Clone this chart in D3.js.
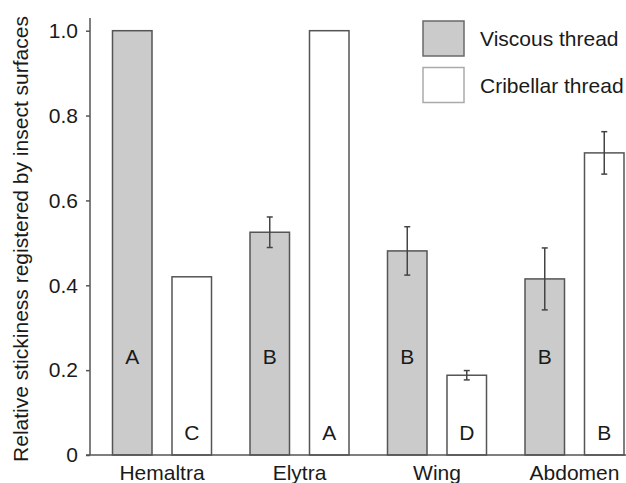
<!DOCTYPE html>
<html>
<head>
<meta charset="utf-8">
<script src="https://cdn.jsdelivr.net/npm/d3@7"></script>
<style>
  body { margin: 0; background: #fff; }
  text { font-family: "Liberation Sans", Arial, sans-serif; fill: #1a1a1a; }
</style>
</head>
<body>
<svg id="chart" width="626" height="483"></svg>
<script>
// data
const surfaces = ['Hemaltra', 'Elytra', 'Wing', 'Abdomen'];
const threads = ['Viscous thread', 'Cribellar thread'];
const viscous = [1.0, 0.525, 0.481, 0.415];
const viscousErr = [0, 0.036, 0.057, 0.073];
const viscousLetters = ['A', 'B', 'B', 'B'];
const cribellar = [0.42, 1.0, 0.188, 0.712];
const cribellarErr = [0, 0, 0.011, 0.05];
const cribellarLetters = ['C', 'A', 'D', 'B'];
const yTicks = [0, 0.2, 0.4, 0.6, 0.8, 1.0];

const rows = [];
surfaces.forEach((s, i) => {
  rows.push({ surface: s, thread: threads[0], value: viscous[i], err: viscousErr[i], letter: viscousLetters[i] });
  rows.push({ surface: s, thread: threads[1], value: cribellar[i], err: cribellarErr[i], letter: cribellarLetters[i] });
});

const svg = d3.select('#chart');
const axisLeft = 90, axisBottom = 455;

const y = d3.scaleLinear()
  .domain([0, 1])
  .range([axisBottom, 30.7]);

const x = d3.scaleBand()
  .domain(surfaces)
  .range([112.5, 624])
  .paddingInner(0.28)
  .paddingOuter(0);

const xInner = d3.scaleBand()
  .domain(threads)
  .range([0, x.bandwidth()])
  .paddingInner(0.336)
  .paddingOuter(0);

const fill = d3.scaleOrdinal()
  .domain(threads)
  .range(['#cbcbcb', '#ffffff']);

// bars
const bars = svg.append('g');
bars.selectAll('rect')
  .data(rows)
  .enter()
  .append('rect')
  .attr('x', d => x(d.surface) + xInner(d.thread))
  .attr('y', d => y(d.value))
  .attr('width', xInner.bandwidth())
  .attr('height', d => y(0) - y(d.value))
  .attr('fill', d => fill(d.thread))
  .attr('stroke', '#555')
  .attr('stroke-width', 1.5);

// error bars
const errRows = rows.filter(d => d.err > 0);
const cx = d => x(d.surface) + xInner(d.thread) + xInner.bandwidth() / 2;
const errs = svg.append('g')
  .attr('stroke', '#444')
  .attr('stroke-width', 1.5);
errs.selectAll('line.stem')
  .data(errRows)
  .enter()
  .append('line')
  .attr('class', 'stem')
  .attr('x1', cx).attr('x2', cx)
  .attr('y1', d => y(d.value + d.err))
  .attr('y2', d => y(d.value - d.err));
['top', 'bottom'].forEach(side => {
  errs.selectAll('line.cap-' + side)
    .data(errRows)
    .enter()
    .append('line')
    .attr('class', 'cap-' + side)
    .attr('x1', d => cx(d) - 3)
    .attr('x2', d => cx(d) + 3)
    .attr('y1', d => y(side === 'top' ? d.value + d.err : d.value - d.err))
    .attr('y2', d => y(side === 'top' ? d.value + d.err : d.value - d.err));
});

// significance letters
svg.append('g')
  .selectAll('text')
  .data(rows)
  .enter()
  .append('text')
  .attr('x', cx)
  .attr('y', d => d.thread === threads[0] ? 364 : 440)
  .attr('text-anchor', 'middle')
  .attr('font-size', 21)
  .text(d => d.letter);

// y axis
const yAxis = svg.append('g')
  .attr('transform', `translate(${axisLeft},0)`)
  .call(d3.axisLeft(y)
    .tickValues(yTicks)
    .tickSize(4)
    .tickPadding(8)
    .tickFormat(d => d === 0 ? '0' : d3.format('.1f')(d)));
yAxis.select('.domain')
  .attr('d', `M0,18V${axisBottom}`)
  .attr('stroke', '#555')
  .attr('stroke-width', 1.5);
yAxis.selectAll('.tick line').attr('stroke', '#555').attr('stroke-width', 1.5);
yAxis.selectAll('.tick text')
  .attr('font-size', 21)
  .attr('font-family', '"Liberation Sans", Arial, sans-serif')
  .attr('fill', '#1a1a1a');

// x axis
const xAxis = svg.append('g')
  .attr('transform', `translate(0,${axisBottom})`)
  .call(d3.axisBottom(x).tickSize(0).tickPadding(10));
xAxis.select('.domain')
  .attr('d', `M${axisLeft - 4},0H626`)
  .attr('stroke', '#555')
  .attr('stroke-width', 1.5);
xAxis.selectAll('.tick text')
  .attr('font-size', 21)
  .attr('font-family', '"Liberation Sans", Arial, sans-serif')
  .attr('fill', '#1a1a1a')
  .attr('dy', '0.71em');

// y axis title
svg.append('text')
  .attr('transform', 'translate(28,239) rotate(-90)')
  .attr('text-anchor', 'middle')
  .attr('font-size', 21)
  .text('Relative stickiness registered by insect surfaces');

// legend
const legend = svg.append('g')
  .selectAll('g')
  .data(threads)
  .enter()
  .append('g')
  .attr('transform', (d, i) => `translate(423,${21 + i * 46.5})`);
legend.append('rect')
  .attr('width', 41)
  .attr('height', 35)
  .attr('fill', d => fill(d))
  .attr('stroke', (d, i) => i === 0 ? '#6a6a6a' : '#aaa')
  .attr('stroke-width', 1.5);
legend.append('text')
  .attr('x', 57)
  .attr('y', 18)
  .attr('dy', '0.35em')
  .attr('font-size', 21)
  .text(d => d);
</script>
</body>
</html>
